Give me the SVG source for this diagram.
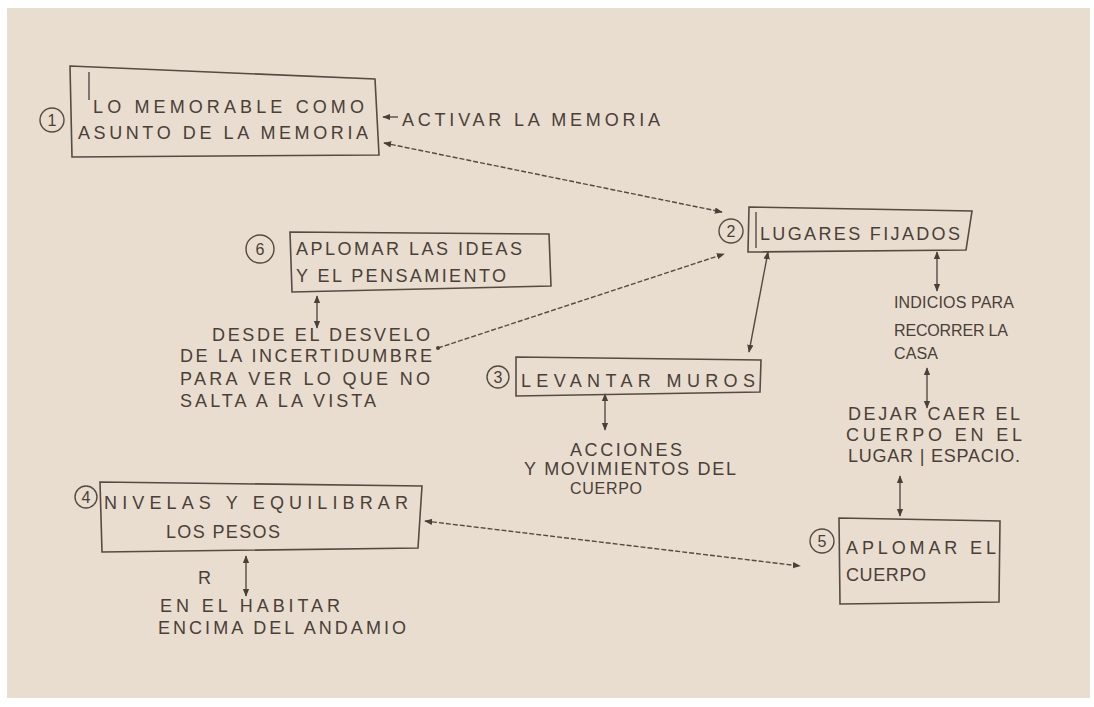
<svg xmlns="http://www.w3.org/2000/svg" width="1094" height="707" viewBox="0 0 1094 707">
<defs>
<style>
.t{font-family:"Liberation Sans","DejaVu Sans",sans-serif;font-size:18px;fill:#4a4038;}
.s{font-size:16px;}
.b{fill:none;stroke:#564b41;stroke-width:1.6;}
.c{fill:none;stroke:#564b41;stroke-width:1.4;}
.d{fill:none;stroke:#564b41;stroke-width:1.4;stroke-dasharray:5 2;}
.n{font-family:"Liberation Sans","DejaVu Sans",sans-serif;font-size:16px;fill:#4a4038;text-anchor:middle;}
</style>
<marker id="ah" viewBox="0 0 10 10" refX="9" refY="5" markerWidth="8" markerHeight="8" orient="auto-start-reverse" markerUnits="userSpaceOnUse">
<path d="M0,1 L10,5 L0,9 z" fill="#4a4038"/>
</marker>
</defs>
<rect x="0" y="0" width="1094" height="707" fill="#ffffff"/>
<rect x="7" y="8" width="1083" height="690" fill="#e8ddcf"/>

<g id="connectors">
<line class="c" x1="398" y1="117" x2="383" y2="117" marker-end="url(#ah)"/>
<line class="d" x1="384" y1="143" x2="722" y2="212" marker-start="url(#ah)" marker-end="url(#ah)"/>
<line class="d" x1="438" y1="348" x2="724" y2="254" marker-end="url(#ah)"/>
<circle cx="438" cy="348" r="2" fill="#4a4038"/>
<line class="c" x1="317" y1="296" x2="317" y2="328" marker-start="url(#ah)" marker-end="url(#ah)"/>
<line class="c" x1="768" y1="252" x2="749" y2="352" marker-start="url(#ah)" marker-end="url(#ah)"/>
<line class="c" x1="605" y1="394" x2="605" y2="430" marker-start="url(#ah)" marker-end="url(#ah)"/>
<line class="c" x1="937" y1="252" x2="937" y2="291" marker-start="url(#ah)" marker-end="url(#ah)"/>
<line class="c" x1="927" y1="368" x2="927" y2="408" marker-start="url(#ah)" marker-end="url(#ah)"/>
<line class="c" x1="900" y1="476" x2="900" y2="516" marker-start="url(#ah)" marker-end="url(#ah)"/>
<line class="d" x1="425" y1="521" x2="800" y2="566" marker-start="url(#ah)" marker-end="url(#ah)"/>
<line class="c" x1="246" y1="556" x2="246" y2="596" marker-start="url(#ah)" marker-end="url(#ah)"/>
</g>

<g id="node1">
<path class="b" d="M70,66 L375,79 L379,155 L72,157 Z"/>
<line class="c" x1="89" y1="72" x2="89" y2="100"/>
<circle class="c" cx="52" cy="120" r="12"/>
<text class="n" x="52" y="126">1</text>
<text class="t" x="93" y="113" textLength="271" lengthAdjust="spacing">LO MEMORABLE COMO</text>
<text class="t" x="78" y="139" textLength="290" lengthAdjust="spacing">ASUNTO DE LA MEMORIA</text>
</g>

<g id="label-activar">
<text class="t" x="402" y="126" textLength="258" lengthAdjust="spacing">ACTIVAR LA MEMORIA</text>
</g>

<g id="node2">
<path class="b" d="M749,207 L972,211 L966,250 L748,252 Z"/>
<line class="c" x1="756" y1="212" x2="756" y2="248"/>
<circle class="c" cx="731" cy="231" r="12"/>
<text class="n" x="731" y="237">2</text>
<text class="t" x="760" y="240" textLength="200" lengthAdjust="spacing">LUGARES FIJADOS</text>
</g>

<g id="node6">
<path class="b" d="M290,232 L549,234 L551,286 L292,292 Z"/>
<circle class="c" cx="260" cy="249" r="14"/>
<text class="n" x="260" y="255">6</text>
<text class="t" x="296" y="255" textLength="226" lengthAdjust="spacing">APLOMAR LAS IDEAS</text>
<text class="t" x="296" y="282" textLength="210" lengthAdjust="spacing">Y EL PENSAMIENTO</text>
</g>

<g id="label-desde">
<text class="t" x="212" y="341" textLength="218" lengthAdjust="spacing">DESDE EL DESVELO</text>
<text class="t" x="180" y="362" textLength="252" lengthAdjust="spacing">DE LA INCERTIDUMBRE</text>
<text class="t" x="180" y="385" textLength="250" lengthAdjust="spacing">PARA VER LO QUE NO</text>
<text class="t" x="180" y="407" textLength="196" lengthAdjust="spacing">SALTA A LA VISTA</text>
</g>

<g id="node3">
<path class="b" d="M516,357 L761,360 L760,392 L516,396 Z"/>
<circle class="c" cx="498" cy="377" r="11"/>
<text class="n" x="498" y="383">3</text>
<text class="t" x="521" y="387" textLength="234" lengthAdjust="spacing">LEVANTAR MUROS</text>
</g>

<g id="label-acciones">
<text class="t" x="570" y="456" textLength="112" lengthAdjust="spacing">ACCIONES</text>
<text class="t" x="524" y="475" textLength="212" lengthAdjust="spacing">Y MOVIMIENTOS DEL</text>
<text class="t s" x="570" y="494" textLength="72" lengthAdjust="spacing">CUERPO</text>
</g>

<g id="label-indicios">
<text class="t s" x="894" y="308" textLength="120" lengthAdjust="spacing">INDICIOS PARA</text>
<text class="t s" x="894" y="336" textLength="114" lengthAdjust="spacing">RECORRER LA</text>
<text class="t s" x="894" y="359" textLength="44" lengthAdjust="spacing">CASA</text>
</g>

<g id="label-dejar">
<text class="t" x="848" y="420" textLength="172" lengthAdjust="spacing">DEJAR CAER EL</text>
<text class="t" x="846" y="441" textLength="176" lengthAdjust="spacing">CUERPO EN EL</text>
<text class="t" x="848" y="462" textLength="172" lengthAdjust="spacing">LUGAR | ESPACIO.</text>
</g>

<g id="node5">
<path class="b" d="M839,518 L1000,521 L999,602 L840,604 Z"/>
<circle class="c" cx="822" cy="541" r="12"/>
<text class="n" x="822" y="547">5</text>
<text class="t" x="846" y="554" textLength="150" lengthAdjust="spacing">APLOMAR EL</text>
<text class="t" x="846" y="581" textLength="80" lengthAdjust="spacing">CUERPO</text>
</g>

<g id="node4">
<path class="b" d="M100,482 L422,486 L418,548 L102,552 Z"/>
<circle class="c" cx="86" cy="497" r="11"/>
<text class="n" x="86" y="503">4</text>
<text class="t" x="104" y="509" textLength="304" lengthAdjust="spacing">NIVELAS Y EQUILIBRAR</text>
<text class="t" x="166" y="538" textLength="114" lengthAdjust="spacing">LOS PESOS</text>
</g>

<g id="label-habitar">
<text class="t" x="198" y="584">R</text>
<text class="t" x="160" y="612" textLength="180" lengthAdjust="spacing">EN EL HABITAR</text>
<text class="t" x="158" y="634" textLength="248" lengthAdjust="spacing">ENCIMA DEL ANDAMIO</text>
</g>
</svg>
